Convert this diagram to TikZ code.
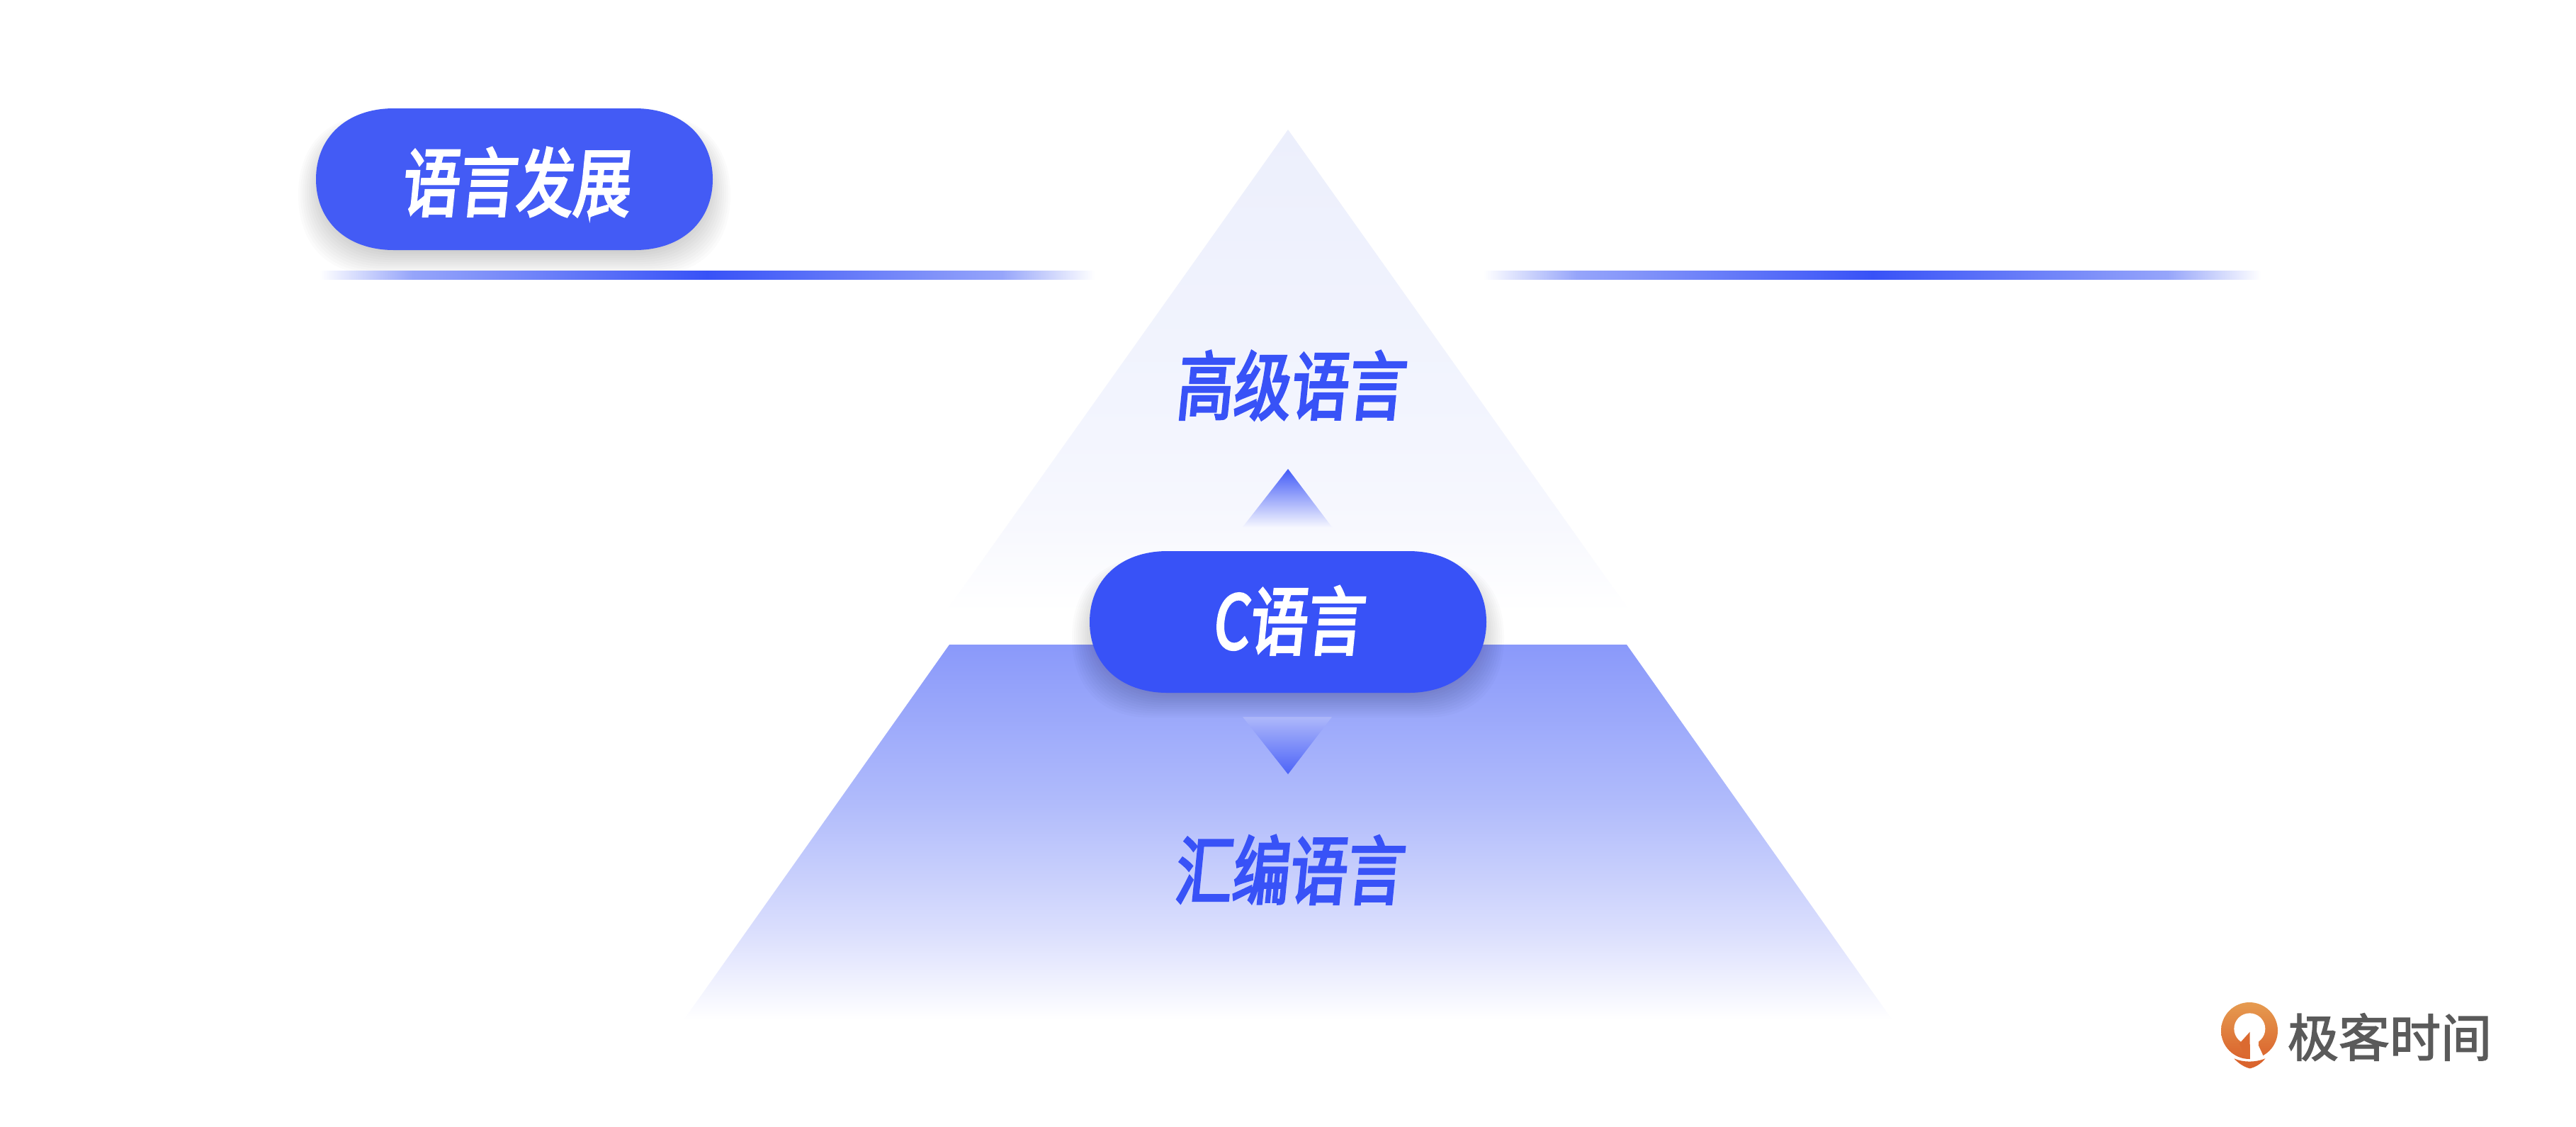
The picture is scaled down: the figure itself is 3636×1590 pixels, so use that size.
\documentclass[tikz,border=0pt]{standalone}
\usepackage{fontspec}
\usepackage{tikz}

\newfontfamily\titlefont[FakeSlant=0.1,FakeStretch=0.765,FakeBold=3]{Noto Sans CJK SC}
\newfontfamily\logofont[FakeBold=2]{Noto Sans CJK SC}

\definecolor{langblue}{RGB}{56,82,247}
\definecolor{headblue}{RGB}{67,91,245}
\definecolor{barlight}{RGB}{150,165,250}
\definecolor{logogray}{RGB}{90,90,90}
\definecolor{logotop}{RGB}{230,155,80}
\definecolor{logobottom}{RGB}{218,100,45}
\definecolor{highone}{RGB}{247,248,254}
\definecolor{hightwo}{RGB}{243,245,254}
\definecolor{highthree}{RGB}{236,239,252}
\definecolor{lowone}{RGB}{218,222,253}
\definecolor{lowtwo}{RGB}{176,187,251}
\definecolor{lowthree}{RGB}{138,153,250}
\definecolor{upbase}{RGB}{245,246,254}
\definecolor{downbase}{RGB}{174,184,250}

\pgfdeclarehorizontalshading{barfade}{100bp}{color(0bp)=(white); color(25bp)=(white); color(31bp)=(barlight); color(50bp)=(langblue); color(69bp)=(barlight); color(75bp)=(white); color(100bp)=(white)}
\pgfdeclareverticalshading{highfade}{100bp}{color(0bp)=(white); color(25bp)=(white); color(34bp)=(highone); color(43bp)=(hightwo); color(75bp)=(highthree); color(100bp)=(highthree)}
\pgfdeclareverticalshading{lowfade}{100bp}{color(0bp)=(white); color(25bp)=(white); color(37bp)=(lowone); color(54bp)=(lowtwo); color(75bp)=(lowthree); color(100bp)=(lowthree)}

\tikzset{
    langtext/.style={font=\titlefont\fontsize{30}{30}\selectfont, text=langblue, inner sep=0pt},
    pilltext/.style={langtext, text=white},
    logotext/.style={font=\logofont\fontsize{20.5}{20.5}\selectfont, text=logogray, inner sep=0pt},
}

% the rounded button outline: left, top, right, bottom
\newcommand{\pillpath}[4]{
    (#1,{(#2+#4)/2}) .. controls (#1,#2+42) and (#1+42,#2) .. (#1+110,#2) -- (#3-110,#2)
    .. controls (#3-42,#2) and (#3,#2+42) .. (#3,{(#2+#4)/2})
    .. controls (#3,#4-42) and (#3-42,#4) .. (#3-110,#4) -- (#1+110,#4)
    .. controls (#1+42,#4) and (#1,#4-42) .. (#1,{(#2+#4)/2}) -- cycle
}

\begin{document}
\begin{tikzpicture}[x=0.01cm,y=-0.01cm]
    \fill[white] (0,0) rectangle (3636,1590);
    \useasboundingbox (0,0) rectangle (3636,1590);

    % Draw the two pyramid parts
    \shade[shading=highfade] (1818,183) -- (2302,865) -- (1334,865) -- cycle;
    \shade[shading=lowfade] (1340,910) -- (2296,910) -- (2671,1440) -- (965,1440) -- cycle;

    % the small triangles
    \shade[top color=langblue!95, bottom color=upbase] (1818,662) -- (1880,744) -- (1754,744) -- cycle;
    \shade[top color=downbase, bottom color=langblue!90] (1754,1012) -- (1880,1012) -- (1818,1093) -- cycle;

    % shadows of the buttons
    \foreach \s in {-8,-5,...,25} {
        \fill[black, opacity=0.016] \pillpath{446-\s}{172-0.4*\s}{1006+\s}{363+\s};
        \fill[black, opacity=0.016] \pillpath{1538-\s}{797-0.4*\s}{2098+\s}{988+\s};
    }

    % the bars under the heading
    \shade[shading=barfade] (451,382) rectangle (1545,394);
    \shade[shading=barfade] (2094,382) rectangle (3191,394);

    % the buttons
    \fill[headblue] \pillpath{446}{153}{1006}{353};
    \fill[langblue] \pillpath{1538}{778}{2098}{978};

    % Label the levels
    \node[pilltext] (heading) at (727,257) {语言发展};
    \node[pilltext] (clang) at (1817,876) {C语言};
    \node[langtext] (highlevel) at (1820,544) {高级语言};
    \node[langtext] (assembly) at (1818,1228) {汇编语言};

    % the logo
    \begin{scope}[shift={(3120,1405)},scale=1/3]
        \shade[top color=logotop, bottom color=logobottom] (165,150) circle (120);
        \fill[white] (166,142) circle (66);
        \fill[logobottom!90!logotop] (167,155) -- (122,205) -- (150,262) -- (167,264) -- cycle;
        \fill[white] (168,155) -- (168,282) -- (226,262) -- (203,212) -- (205,180) -- cycle;
        \fill[logobottom] (100,268) .. controls (140,285) and (190,285) .. (232,268)
            .. controls (215,290) and (190,305) .. (167,310)
            .. controls (145,305) and (120,290) .. (100,268) -- cycle;
    \end{scope}
    \node[logotext] (logoname) at (3373,1464) {极客时间};
\end{tikzpicture}
\end{document}
